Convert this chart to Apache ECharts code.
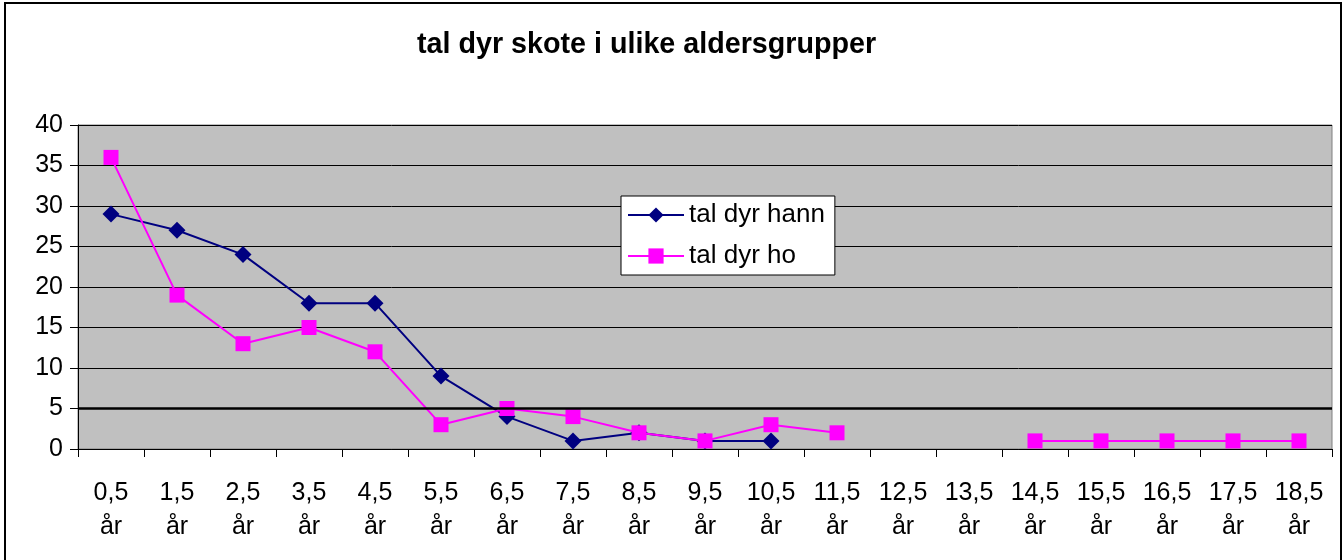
<!DOCTYPE html>
<html>
<head>
<meta charset="utf-8">
<script src="https://cdn.jsdelivr.net/npm/echarts@6/dist/echarts.min.js"></script>
<style>
  html, body { margin: 0; padding: 0; background: #fff; }
  #chart { width: 1343px; height: 560px; }
</style>
</head>
<body>
<div id="chart"></div>
<script>
// categories (age groups)
const ages = ['0,5', '1,5', '2,5', '3,5', '4,5', '5,5', '6,5', '7,5', '8,5', '9,5',
  '10,5', '11,5', '12,5', '13,5', '14,5', '15,5', '16,5', '17,5', '18,5']
// number of animals
const hann = [29, 27, 24, 18, 18, 9, 4, 1, 2, 1, 1, '-', '-', '-', '-', '-', '-', '-', '-']
const ho = [36, 19, 13, 15, 12, 3, 5, 4, 2, 1, 3, 2, '-', '-', 1, 1, 1, 1, 1]
const yTicks = [0, 5, 10, 15, 20, 25, 30, 35, 40]

const chart = echarts.init(document.getElementById('chart'))
const font = '"Liberation Sans", Arial, sans-serif'

const option = {
  animation: false,
  backgroundColor: '#fff',
  title: {
    text: 'tal dyr skote i ulike aldersgrupper',
    left: 412,
    top: 26,
    textStyle: { fontFamily: font, fontSize: 28.7, fontWeight: 'bold', color: '#000' }
  },
  graphic: [{
    type: 'rect',
    shape: { x: 5, y: 3, width: 1336, height: 562 },
    style: { fill: 'none', stroke: '#000', lineWidth: 2 },
    silent: true
  }],
  legend: {
    orient: 'vertical',
    left: 621,
    top: 196,
    backgroundColor: '#fff',
    borderColor: '#000',
    borderWidth: 1,
    borderRadius: 0,
    padding: [6, 10, 6, 6],
    itemGap: 15,
    itemWidth: 56,
    itemHeight: 19,
    textStyle: { fontFamily: font, fontSize: 26, color: '#000' },
    data: ['tal dyr hann', 'tal dyr ho']
  },
  grid: {
    left: 78,
    right: 11,
    top: 125,
    bottom: 111,
    show: true,
    backgroundColor: '#c0c0c0',
    borderColor: '#808080',
    borderWidth: 1
  },
  xAxis: {
    type: 'category',
    data: ages.map(a => a + '\når'),
    boundaryGap: true,
    axisLine: { lineStyle: { color: '#000', width: 1 } },
    axisTick: { show: true, length: 8, inside: false, lineStyle: { color: '#000' } },
    axisLabel: {
      interval: 0,
      margin: 27,
      lineHeight: 34,
      fontFamily: font,
      fontSize: 25,
      color: '#000'
    }
  },
  yAxis: {
    type: 'value',
    min: yTicks[0],
    max: yTicks[yTicks.length - 1],
    interval: 5,
    axisLine: { show: true, lineStyle: { color: '#000', width: 1 } },
    axisTick: { show: true, length: 8, lineStyle: { color: '#000' } },
    axisLabel: { margin: 15, fontFamily: font, fontSize: 25, color: '#000' },
    splitLine: { show: true, lineStyle: { color: '#000', width: 1 } }
  },
  series: [
    {
      name: 'tal dyr hann',
      type: 'line',
      data: hann,
      symbol: 'diamond',
      symbolSize: 17,
      lineStyle: { color: '#000080', width: 2 },
      itemStyle: { color: '#000080' },
      markLine: {
        silent: true,
        symbol: ['none', 'none'],
        label: { show: false },
        lineStyle: { color: '#000', width: 2.5, type: 'solid' },
        data: [{ yAxis: 5 }]
      },
      z: 3
    },
    {
      name: 'tal dyr ho',
      type: 'line',
      data: ho,
      symbol: 'rect',
      symbolSize: 15,
      lineStyle: { color: '#ff00ff', width: 2 },
      itemStyle: { color: '#ff00ff' },
      z: 4
    }
  ]
}

chart.setOption(option)
</script>
</body>
</html>
